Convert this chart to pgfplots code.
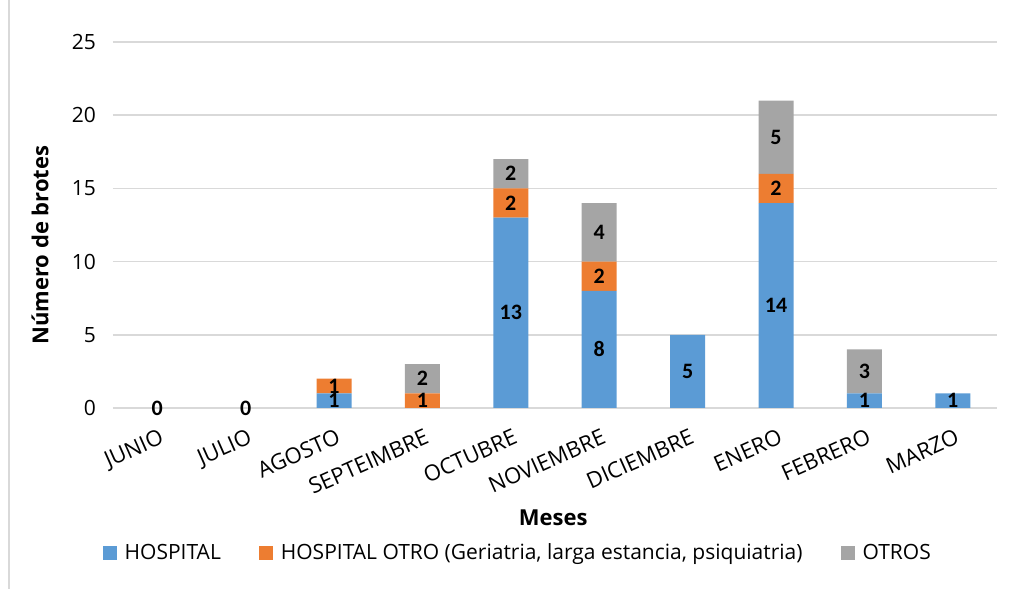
\documentclass[border=0pt]{standalone}
\usepackage{fontspec}
\setmainfont{Open Sans}
\newfontfamily\labfont{Carlito}
\usepackage{pgfplots}
\pgfplotsset{compat=1.18}
\definecolor{cHosp}{HTML}{5B9BD5}
\definecolor{cOtro}{HTML}{ED7D31}
\definecolor{cGris}{HTML}{A5A5A5}
\definecolor{cGrid}{HTML}{D9D9D9}
\pgfplotsset{
  frame/.style={at={(56.5pt,90.5pt)}, anchor=south west,
    scale only axis, width=442pt, height=183pt,
    xmin=-0.5, xmax=9.5, ymin=0, ymax=25, clip=false},
}
\begin{document}
\begin{tikzpicture}
\path[use as bounding box] (0,0) rectangle (506.5pt,294.5pt);
\draw[cGrid,line width=0.8pt] (4.5pt,0) -- (4.5pt,294.5pt);
\begin{axis}[
  frame,
  ybar stacked, bar width=17.5pt,
  ytick={0,5,...,25},
  xtick={0,...,9},
  xticklabels={JUNIO,JULIO,AGOSTO,SEPTEIMBRE,OCTUBRE,NOVIEMBRE,DICIEMBRE,ENERO,FEBRERO,MARZO},
  xticklabel style={rotate=24, anchor=north east, yshift=-6pt, xshift=0pt, font=\fontsize{11}{13}\selectfont},
  yticklabel style={font=\fontsize{10.5}{12}\selectfont, xshift=-5pt},
  /pgf/number format/assume math mode=true,
  major tick length=0pt,
  axis line style={draw=none},
  ymajorgrids, major grid style={cGrid, line width=0.8pt},
  xlabel={\textbf{Meses}},
  xlabel style={at={(axis description cs:0.498,-0.30)}, anchor=center, font=\fontsize{11}{13}\selectfont},
  ylabel={\textbf{Número de brotes}},
  ylabel style={at={(axis description cs:-0.0826,0.445)}, anchor=center, rotate=0, font=\fontsize{11}{13}\selectfont},
  legend columns=3,
  legend style={at={(axis description cs:0.459,-0.396)}, anchor=center, draw=none, font=\fontsize{10.5}{12}\selectfont,
    /tikz/every odd column/.append style={column sep=2pt},
    /tikz/every even column/.append style={column sep=17pt}},
  sq/.style={legend image code/.code={\fill[##1] (0pt,-3.5pt) rectangle (7pt,3.5pt);}},
]
\addplot[fill=cHosp, draw=none, sq] coordinates {
  (0,0) (1,0) (2,1) (3,0) (4,13) (5,8) (6,5) (7,14) (8,1) (9,1)};
\addplot[fill=cOtro, draw=none, sq] coordinates {
  (0,0) (1,0) (2,1) (3,1) (4,2) (5,2) (6,0) (7,2) (8,0) (9,0)};
\addplot[fill=cGris, draw=none, sq] coordinates {
  (0,0) (1,0) (2,0) (3,2) (4,2) (5,4) (6,0) (7,5) (8,3) (9,0)};
\legend{HOSPITAL, {HOSPITAL OTRO (Geriatria, larga estancia, psiquiatria)}, OTROS}
\end{axis}
% data labels, at the middle of each segment
\begin{axis}[frame, hide axis]
\addplot[draw=none, mark=none, point meta=explicit symbolic,
  nodes near coords={\pgfplotspointmeta},
  every node near coord/.append style={anchor=center, font=\labfont\bfseries\fontsize{11}{13}\selectfont}]
  coordinates {
  (0,0) [0] (1,0) [0]
  (2,0.5) [1] (2,1.5) [1]
  (3,0.5) [1] (3,2) [2]
  (4,6.5) [13] (4,14) [2] (4,16) [2]
  (5,4) [8] (5,9) [2] (5,12) [4]
  (6,2.5) [5]
  (7,7) [14] (7,15) [2] (7,18.5) [5]
  (8,0.5) [1] (8,2.5) [3]
  (9,0.5) [1]};
\end{axis}
\end{tikzpicture}
\end{document}
